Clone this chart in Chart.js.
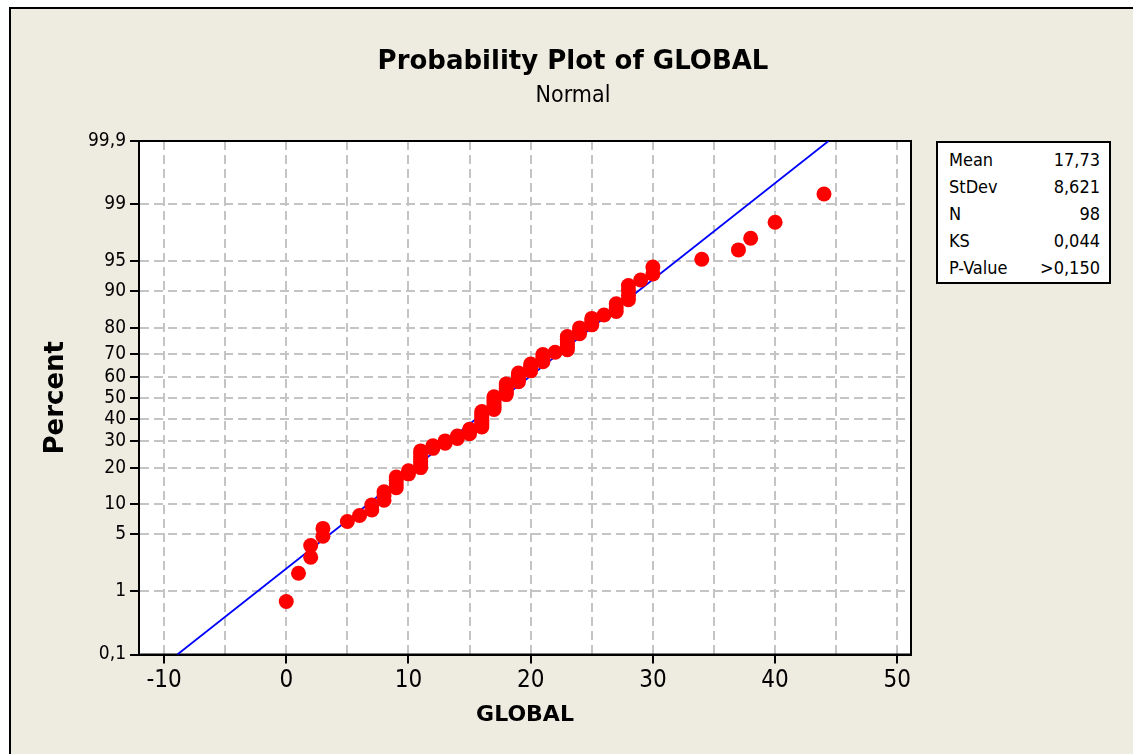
<!DOCTYPE html>
<html>
<head>
<meta charset="utf-8">
<title>Probability Plot of GLOBAL</title>
<script src="https://cdn.jsdelivr.net/npm/chart.js@4.4.1/dist/chart.umd.min.js"></script>
<style>
  body { margin: 0; background: #fff; width: 1133px; height: 754px; overflow: hidden; position: relative; }
  #frame { position: absolute; left: 9px; top: 7px; right: 0; bottom: 0; background: #EEEBE0;
           border-top: 2px solid #000; border-left: 2px solid #000; }
  #chart { position: absolute; left: 0; top: 0; }
  #stats { position: absolute; left: 936px; top: 141px; width: 151px; padding: 3px 9px 1px 11px;
           background: #fff; border: 2px solid #000; color: #000;
           font: 18px "DejaVu Sans Condensed", "Liberation Sans", sans-serif; line-height: 27px; }
  #stats div { display: flex; justify-content: space-between; white-space: nowrap; }
</style>
</head>
<body>
<div id="frame"></div>
<canvas id="chart" width="1133" height="754"></canvas>
<div id="stats"></div>
<script>
// GLOBAL values, sorted, one per plotted point
const globalVals = [
  0, 1, 2, 2, 3, 3, 5, 6, 7, 7,
  8, 8, 8, 9, 9, 9, 9, 10, 10,
  11, 11, 11, 11, 11, 11, 11, 12, 12, 13, 13, 14, 14, 15, 15, 15,
  16, 16, 16, 16, 16, 16, 16, 16,
  17, 17, 17, 17, 17, 17, 17,
  18, 18, 18, 18, 18, 18,
  19, 19, 19, 19, 19,
  20, 20, 20, 20, 21, 21, 21, 21, 22,
  23, 23, 23, 23, 23, 23, 24, 24, 24, 25, 25, 25, 26,
  27, 27, 27, 28, 28, 28, 28, 29, 30, 30,
  34, 37, 38, 40, 44
];
// percent (plotting position) of each point
const pctVals = [
  0.71, 1.73, 2.74, 3.76, 4.78, 5.79, 6.81, 7.83, 8.84, 9.86,
  10.87, 11.89, 12.91, 13.92, 14.94, 15.96, 16.97, 17.99, 19.00, 20.02,
  21.04, 22.05, 23.07, 24.09, 25.10, 26.12, 27.13, 28.15, 29.17, 30.18,
  31.20, 32.22, 33.23, 34.25, 35.26, 36.28, 37.30, 38.31, 39.33, 40.35,
  41.36, 42.38, 43.39, 44.41, 45.43, 46.44, 47.46, 48.48, 49.49, 50.51,
  51.52, 52.54, 53.56, 54.57, 55.59, 56.61, 57.62, 58.64, 59.65, 60.67,
  61.69, 62.70, 63.72, 64.74, 65.75, 66.77, 67.78, 68.80, 69.82, 70.83,
  71.85, 72.87, 73.88, 74.90, 75.91, 76.93, 77.95, 78.96, 79.98, 80.99,
  82.01, 83.03, 84.04, 85.06, 86.08, 87.09, 88.11, 89.13, 90.14, 91.16,
  92.17, 93.19, 94.21, 95.22, 96.24, 97.26, 98.27, 99.29
];
// fitted normal line end points
const fitX = [-8.91, 44.37];
const fitPct = [0.1, 99.9];

const yTickPct = [0.1, 1, 5, 10, 20, 30, 40, 50, 60, 70, 80, 90, 95, 99, 99.9];
const yTickLabels = ['0,1', '1', '5', '10', '20', '30', '40', '50', '60', '70', '80', '90', '95', '99', '99,9'];
const xTicks = [-10, -5, 0, 5, 10, 15, 20, 25, 30, 35, 40, 45, 50];

const statLabels = ['Mean', 'StDev', 'N', 'KS', 'P-Value'];
const statValues = ['17,73', '8,621', '98', '0,044', '>0,150'];

const xMin = -12.05, xMax = 51.12;

const FONT = '"DejaVu Sans Condensed", "Liberation Sans", sans-serif';
const BOLD_FONT = '"DejaVu Sans", sans-serif';

// inverse of the standard normal CDF (probability scale)
function probit(p) {
  const a = [-3.969683028665376e+01, 2.209460984245205e+02, -2.759285104469687e+02,
             1.383577518672690e+02, -3.066479806614716e+01, 2.506628277459239e+00];
  const b = [-5.447609879822406e+01, 1.615858368580409e+02, -1.556989798598866e+02,
             6.680131188771972e+01, -1.328068155288572e+01];
  const c = [-7.784894002430293e-03, -3.223964580411365e-01, -2.400758277161838e+00,
             -2.549732539343734e+00, 4.374664141464968e+00, 2.938163982698783e+00];
  const d = [7.784695709041462e-03, 3.224671290700398e-01, 2.445134137142996e+00,
             3.754408661907416e+00];
  const pl = 0.02425;
  let q, r;
  if (p < pl) {
    q = Math.sqrt(-2 * Math.log(p));
    return (((((c[0]*q + c[1])*q + c[2])*q + c[3])*q + c[4])*q + c[5]) /
           ((((d[0]*q + d[1])*q + d[2])*q + d[3])*q + 1);
  }
  if (p > 1 - pl) {
    q = Math.sqrt(-2 * Math.log(1 - p));
    return -(((((c[0]*q + c[1])*q + c[2])*q + c[3])*q + c[4])*q + c[5]) /
            ((((d[0]*q + d[1])*q + d[2])*q + d[3])*q + 1);
  }
  q = p - 0.5;
  r = q * q;
  return (((((a[0]*r + a[1])*r + a[2])*r + a[3])*r + a[4])*r + a[5])*q /
         (((((b[0]*r + b[1])*r + b[2])*r + b[3])*r + b[4])*r + 1);
}

function buildStats() {
  const box = document.getElementById('stats');
  statLabels.forEach((lab, i) => {
    const row = document.createElement('div');
    const l = document.createElement('span');
    const v = document.createElement('span');
    l.textContent = lab;
    v.textContent = statValues[i];
    row.appendChild(l);
    row.appendChild(v);
    box.appendChild(row);
  });
}

const plotFrame = {
  id: 'plotFrame',
  beforeDraw(chart) {
    const a = chart.chartArea;
    const ctx = chart.ctx;
    ctx.save();
    ctx.fillStyle = '#fff';
    ctx.fillRect(a.left, a.top, a.right - a.left, a.bottom - a.top);
    ctx.restore();
  },
  beforeDatasetsDraw(chart) {
    const a = chart.chartArea;
    const ctx = chart.ctx;
    ctx.save();
    ctx.strokeStyle = '#000';
    ctx.lineWidth = 2;
    ctx.strokeRect(a.left, a.top, a.right - a.left, a.bottom - a.top);
    ctx.restore();
  }
};

function drawChart() {
  Chart.defaults.color = '#000';
  Chart.defaults.font.family = FONT;

  const points = globalVals.map((x, i) => ({ x: x, y: probit(pctVals[i] / 100) }));
  const fitLine = fitX.map((x, i) => ({ x: x, y: probit(fitPct[i] / 100) }));

  const ctx = document.getElementById('chart').getContext('2d');
  new Chart(ctx, {
    type: 'scatter',
    data: {
      datasets: [
        {
          label: 'Fit',
          data: fitLine,
          showLine: true,
          borderColor: '#0000FF',
          borderWidth: 1.8,
          pointRadius: 0,
          fill: false,
          order: 2
        },
        {
          label: 'GLOBAL',
          data: points,
          backgroundColor: '#FF0000',
          borderColor: '#FF0000',
          borderWidth: 0,
          pointRadius: 7.5,
          order: 1
        }
      ]
    },
    options: {
      responsive: false,
      animation: false,
      layout: { padding: { left: 13, right: 0, top: 0, bottom: 0 } },
      plugins: {
        legend: { display: false },
        tooltip: { enabled: false },
        title: {
          display: true,
          text: 'Probability Plot of GLOBAL',
          color: '#000',
          font: { family: BOLD_FONT, size: 26, weight: 'bold', lineHeight: 1.2 },
          padding: { top: 47, bottom: 0 }
        },
        subtitle: {
          display: true,
          text: 'Normal',
          color: '#000',
          font: { family: FONT, size: 23, weight: 'normal', lineHeight: 1.2 },
          padding: { top: 4.5, bottom: 30.7 }
        }
      },
      scales: {
        x: {
          type: 'linear',
          position: 'bottom',
          min: xMin,
          max: xMax,
          afterFit: s => { s.height = 99.5; },
          afterBuildTicks: s => { s.ticks = xTicks.map(v => ({ value: v })); },
          grid: {
            color: '#C4C4C4',
            lineWidth: 2,
            tickLength: 9,
            tickWidth: 2,
            tickColor: c => (c.tick && c.tick.value % 10 === 0) ? '#000' : 'rgba(0,0,0,0)'
          },
          border: { display: true, color: '#000', width: 2, dash: [9, 5] },
          ticks: {
            color: '#000',
            font: { size: 24 },
            padding: 3,
            maxRotation: 0,
            autoSkip: false,
            callback: v => (v % 10 === 0 ? String(v) : '')
          },
          title: {
            display: true,
            text: 'GLOBAL',
            color: '#000',
            font: { family: BOLD_FONT, size: 22, weight: 'bold', lineHeight: 1.2 },
            padding: { top: 0, bottom: 25.3 }
          }
        },
        y: {
          type: 'linear',
          position: 'left',
          min: probit(0.001),
          max: probit(0.999),
          afterFit: s => { s.width = 126; },
          afterBuildTicks: s => { s.ticks = yTickPct.map(p => ({ value: probit(p / 100) })); },
          grid: {
            color: '#C4C4C4',
            lineWidth: 2,
            tickLength: 9,
            tickWidth: 2,
            tickColor: '#000'
          },
          border: { display: true, color: '#000', width: 2, dash: [9, 5] },
          ticks: {
            color: '#000',
            font: { size: 19 },
            padding: 4,
            autoSkip: false,
            callback: (v, i) => yTickLabels[i]
          },
          title: {
            display: true,
            text: 'Percent',
            color: '#000',
            font: { family: BOLD_FONT, size: 26, weight: 'bold', lineHeight: 1.2 },
            padding: { top: 27.4, bottom: 0 }
          }
        },
        yRight: {
          type: 'linear',
          position: 'right',
          display: true,
          grid: { display: false, drawTicks: false },
          border: { display: false },
          ticks: { display: false },
          afterFit: s => { s.width = 222; }
        }
      }
    },
    plugins: [plotFrame]
  });
}

buildStats();
document.addEventListener('DOMContentLoaded', drawChart);
</script>
</body>
</html>
